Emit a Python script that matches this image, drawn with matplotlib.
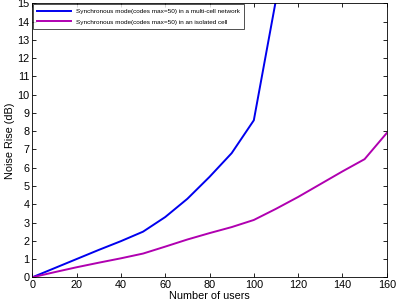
import matplotlib
matplotlib.use("Agg")
import matplotlib.pyplot as plt

users_multi = [0, 10, 20, 30, 40, 50, 60, 70, 80, 90, 100, 110]
nr_multi = [0, 0.5, 1.0, 1.5, 1.98, 2.5, 3.3, 4.3, 5.5, 6.8, 8.6, 15.2]
users_iso = [0, 10, 20, 30, 40, 50, 60, 70, 80, 90, 100, 110, 120, 130, 140, 150, 160]
nr_iso = [0, 0.28, 0.55, 0.8, 1.04, 1.3, 1.68, 2.07, 2.42, 2.75, 3.14, 3.75, 4.4, 5.1, 5.8, 6.47, 7.9]

label_multi = "Synchronous mode(codes max=50) in a multi-cell network"
label_iso = "Synchronous mode(codes max=50) in an isolated cell"

plt.rcParams['font.family'] = ['Liberation Sans', 'DejaVu Sans']

fig = plt.figure(figsize=(3.96, 3.06), dpi=100)
ax = fig.add_axes([0.0816, 0.0938, 0.895, 0.895])

ax.plot(users_multi, nr_multi, color='#0000ee', lw=1.4, label=label_multi)
ax.plot(users_iso, nr_iso, color='#b000b0', lw=1.4, label=label_iso)

ax.set_xlim(0, 160)
ax.set_ylim(0, 15)
ax.set_xticks(range(0, 161, 20))
ax.set_yticks(range(0, 16))
ax.tick_params(direction='in', top=True, right=True, labelsize=7.8, length=3, width=0.6, pad=2)
for s in ax.spines.values():
    s.set_linewidth(0.6)

ax.set_xlabel("Number of users", fontsize=7.8, labelpad=1)
ax.set_ylabel("Noise Rise (dB)", fontsize=7.8, labelpad=2)

leg = ax.legend(loc='upper left', fontsize=4.6, frameon=True, fancybox=False,
                edgecolor='black', borderaxespad=0.1, handlelength=5.2,
                borderpad=0.7, labelspacing=0.8)
leg.get_frame().set_linewidth(0.6)

fig.savefig("out.png", dpi=100)
